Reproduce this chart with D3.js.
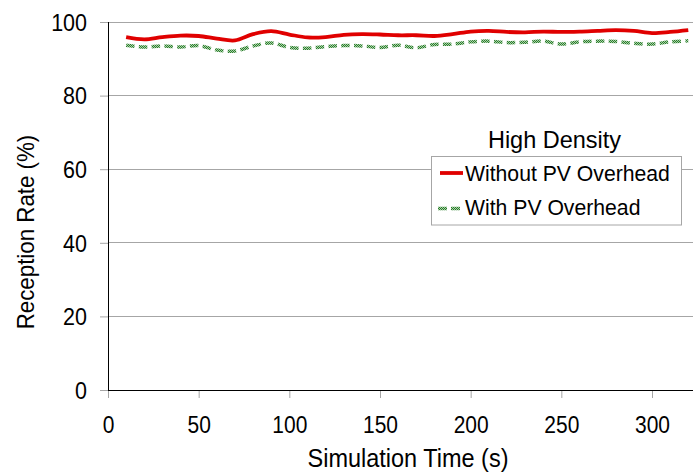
<!DOCTYPE html>
<html><head><meta charset="utf-8">
<script src="https://cdn.jsdelivr.net/npm/d3@7"></script>
<style>
html,body{margin:0;padding:0;background:#fff;}
svg{display:block;font-family:"Liberation Sans",Arial,sans-serif;}
</style></head>
<body><svg id="chart" width="693" height="473"></svg>
<script>
const times = [10,20,30,40,50,60,70,80,90,100,110,120,130,140,150,160,170,180,190,200,210,220,230,240,250,260,270,280,290,300,310,320];
const withoutPV = [95.9,95.3,95.9,96.3,96.2,95.5,95.0,96.7,97.5,96.6,95.8,95.9,96.5,96.7,96.6,96.4,96.4,96.2,96.7,97.4,97.6,97.3,97.2,97.4,97.3,97.4,97.6,97.8,97.6,97.0,97.3,97.8];
const withPV = [93.7,93.2,93.5,93.2,93.6,92.4,92.1,93.5,94.3,93.1,92.9,93.3,93.6,93.5,93.1,93.7,93.0,93.9,94.0,94.6,94.8,94.4,94.5,94.8,94.0,94.6,94.8,94.7,94.2,94.0,94.6,94.9];
const xTicks = [0,50,100,150,200,250,300];
const yTicks = [0,20,40,60,80,100];
const legendTitle = "High Density";
const seriesNames = ["Without PV Overhead","With PV Overhead"];
const xTitle = "Simulation Time (s)";
const yTitle = "Reception Rate (%)";

const svg = d3.select("#chart");
const x = d3.scaleLinear().domain([0,300]).range([108,652]);
const y = d3.scaleLinear().domain([0,100]).range([390,22]);
const right = 693;
const FONT = "Liberation Sans, Arial, sans-serif";

const defs = svg.append("defs");
const pat = defs.append("pattern").attr("id","checker").attr("patternUnits","userSpaceOnUse").attr("width",2).attr("height",2);
pat.append("rect").attr("width",2).attr("height",2).attr("fill","#a8d4a8");
pat.append("rect").attr("width",1).attr("height",1).attr("fill","#2d7a2d");
pat.append("rect").attr("x",1).attr("y",1).attr("width",1).attr("height",1).attr("fill","#2d7a2d");
defs.append("clipPath").attr("id","clip").append("rect").attr("x",108).attr("y",0).attr("width",right-108).attr("height",400);

function stext(parent, tx, ty, str, size, anchor, sy, rot){
  return parent.append("text")
    .attr("transform",`translate(${tx},${ty})${rot?` rotate(${rot})`:""} scale(1,${sy})`)
    .attr("text-anchor",anchor).attr("font-size",size+"px").attr("font-family",FONT).attr("fill","#000").text(str);
}

// gridlines
svg.append("g").selectAll("line").data(yTicks.filter(d=>d>0)).join("line")
  .attr("x1",108).attr("x2",right).attr("y1",d=>y(d)).attr("y2",d=>y(d))
  .attr("stroke","#a6a6a6").attr("stroke-width",1).attr("shape-rendering","crispEdges");

// y axis ticks via d3 axis
const yAxis = svg.append("g").attr("transform","translate(108,0)")
  .call(d3.axisLeft(y).tickValues(yTicks).tickSize(8).tickFormat(""));
yAxis.select(".domain").remove();
yAxis.selectAll(".tick line").attr("stroke","#a6a6a6");
yAxis.selectAll(".tick").each(function(d){
  stext(d3.select(this), -21, 8.2, d, 21.5, "end", 1.12);
});

// x axis
const xAxis = svg.append("g").attr("transform","translate(0,390)")
  .call(d3.axisBottom(x).tickValues(xTicks).tickSize(8).tickFormat(""));
xAxis.select(".domain").remove();
xAxis.selectAll(".tick line").attr("stroke","#a6a6a6");
xAxis.selectAll(".tick").each(function(d){
  stext(d3.select(this), 0, 43, d, 21, "middle", 1.12);
});

svg.append("line").attr("x1",108).attr("x2",108).attr("y1",22).attr("y2",390).attr("stroke","#000").attr("shape-rendering","crispEdges");
svg.append("line").attr("x1",108).attr("x2",right).attr("y1",390).attr("y2",390).attr("stroke","#000").attr("shape-rendering","crispEdges");

// lines
const line = d3.line().x(d=>x(d[0])).y(d=>y(d[1])).curve(d3.curveCatmullRom.alpha(0));
const g = svg.append("g").attr("clip-path","url(#clip)");
g.append("path").datum(times.map((t,i)=>[t,withPV[i]])).attr("d",line)
  .attr("fill","none").attr("stroke","url(#checker)").attr("stroke-width",3.5).attr("stroke-dasharray","8.5,4.3");
g.append("path").datum(times.map((t,i)=>[t,withoutPV[i]])).attr("d",line)
  .attr("fill","none").attr("stroke","#e00000").attr("stroke-width",3.8);

// axis titles
stext(svg, 408, 467, xTitle, 23.5, "middle", 1.1);
stext(svg, 34, 232, yTitle, 22.3, "middle", 1.1, -90);

// legend
stext(svg, 554.5, 148, legendTitle, 23.5, "middle", 1.05);
svg.append("rect").attr("x",431.5).attr("y",156.5).attr("width",250).attr("height",68.5).attr("fill","#fff").attr("stroke","#a6a6a6");
const leg = svg.append("g");
leg.append("line").attr("x1",440).attr("x2",463).attr("y1",173).attr("y2",173).attr("stroke","#e00000").attr("stroke-width",3.8);
leg.append("line").attr("x1",438).attr("x2",462).attr("y1",208.5).attr("y2",208.5).attr("stroke","url(#checker)").attr("stroke-width",3.5).attr("stroke-dasharray","9,4");
seriesNames.forEach((s,i)=>stext(leg, 465, 181+i*34, s, 21.2, "start", 1.05));
</script></body></html>
